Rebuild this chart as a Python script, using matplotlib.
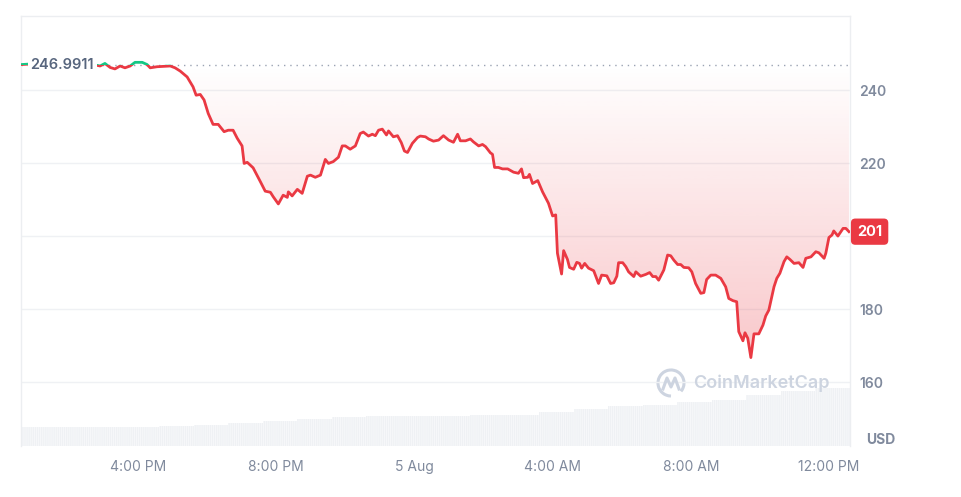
""" 24h price chart, CoinMarketCap style """

import numpy as np
import matplotlib
matplotlib.use('Agg')
import matplotlib.pyplot as plt
from matplotlib.patches import Rectangle, Arc
from matplotlib.lines import Line2D
from matplotlib.transforms import IdentityTransform

plt.rcParams['font.family'] = ['Inter', 'DejaVu Sans']
plt.rcParams['hatch.linewidth'] = 0.6

# hours since 4 Aug 00:00
hours = [12.61, 13.16, 13.74, 14.32, 14.70, 14.90, 15.04, 15.19, 15.33, 15.48,
         15.62, 15.77, 15.91, 16.12, 16.26, 16.35, 16.55, 16.93, 17.07, 17.22,
         17.42, 17.59, 17.68, 17.80, 17.91, 18.03, 18.17, 18.32, 18.49, 18.61,
         18.75, 18.87, 19.01, 19.07, 19.16, 19.33, 19.54, 19.68, 19.83, 19.91,
         20.06, 20.20, 20.32, 20.35, 20.46, 20.61, 20.75, 20.90, 20.99, 21.13,
         21.28, 21.42, 21.51, 21.65, 21.80, 21.91, 22.00, 22.14, 22.29, 22.43,
         22.52, 22.67, 22.78, 22.87, 22.96, 23.07, 23.19, 23.25, 23.39, 23.51,
         23.62, 23.71, 23.80, 23.94, 24.09, 24.17, 24.32, 24.41, 24.55, 24.70,
         24.84, 24.99, 25.13, 25.25, 25.33, 25.48, 25.62, 25.71, 25.86, 25.97,
         26.06, 26.20, 26.26, 26.32, 26.43, 26.55, 26.70, 26.87, 27.01, 27.10,
         27.16, 27.28, 27.33, 27.42, 27.57, 27.71, 27.88, 28.00, 28.09, 28.14,
         28.26, 28.32, 28.43, 28.49, 28.61, 28.70, 28.78, 28.84, 28.93, 29.04,
         29.19, 29.33, 29.42, 29.57, 29.68, 29.77, 29.86, 29.91, 30.03, 30.12,
         30.20, 30.35, 30.41, 30.55, 30.70, 30.81, 30.90, 30.99, 31.07, 31.22,
         31.33, 31.42, 31.51, 31.62, 31.71, 31.80, 31.94, 32.03, 32.14, 32.29,
         32.38, 32.46, 32.58, 32.72, 32.87, 33.01, 33.10, 33.22, 33.33, 33.39,
         33.51, 33.57, 33.65, 33.74, 33.83, 33.97, 34.09, 34.17, 34.26, 34.41,
         34.49, 34.58, 34.70, 34.78, 34.87, 34.99, 35.13, 35.25, 35.33, 35.48,
         35.62, 35.71, 35.86, 35.91, 36.00, 36.09, 36.14, 36.26, 36.41, 36.49,
         36.58]
price = [246.99, 247.3, 246.7, 247.2, 247.0, 246.6, 247.3, 246.2, 245.8, 246.6,
         246.1, 246.6, 247.6, 247.6, 247.0, 246.1, 246.4, 246.6, 246.1, 245.2,
         243.6, 240.9, 238.6, 238.8, 237.3, 233.6, 230.6, 230.6, 228.6, 229.0,
         229.0, 226.8, 224.7, 219.9, 220.2, 218.7, 214.9, 212.3, 212.0, 210.8,
         208.8, 211.2, 210.6, 212.1, 211.0, 212.8, 211.7, 216.4, 216.7, 216.1,
         216.7, 221.0, 219.9, 220.4, 221.6, 224.7, 224.7, 223.8, 224.7, 228.1,
         228.5, 227.4, 227.9, 227.5, 229.0, 229.3, 227.7, 228.8, 227.2, 227.5,
         225.6, 223.3, 222.9, 225.4, 227.0, 227.4, 227.2, 226.6, 226.0, 226.3,
         227.5, 226.3, 225.7, 227.9, 226.1, 226.1, 226.6, 225.8, 224.7, 225.1,
         224.5, 222.8, 222.4, 218.8, 218.8, 218.4, 218.4, 217.5, 217.2, 218.4,
         216.0, 216.1, 216.9, 214.4, 215.2, 212.1, 209.0, 205.5, 205.8, 195.3,
         189.6, 196.0, 193.6, 191.4, 190.9, 192.8, 192.5, 191.2, 192.5, 191.2,
         190.5, 187.0, 189.3, 189.1, 187.0, 187.2, 189.0, 192.7, 192.7, 191.6,
         190.2, 188.9, 190.2, 189.0, 189.5, 190.0, 188.9, 188.9, 187.9, 190.7,
         194.8, 194.6, 193.4, 192.2, 192.2, 191.4, 191.3, 190.2, 187.0, 184.3,
         184.5, 188.1, 189.3, 189.3, 188.4, 186.1, 182.9, 182.3, 182.0, 173.8,
         171.3, 173.5, 172.0, 166.7, 173.2, 173.2, 175.6, 178.1, 179.7, 186.1,
         188.4, 189.8, 193.0, 194.3, 193.6, 192.5, 192.7, 191.4, 193.9, 194.3,
         195.7, 195.4, 193.9, 195.3, 199.6, 200.3, 201.4, 200.0, 202.1, 202.1,
         201.2]
open_price = 246.9911
open_label = '246.9911'
last_label = '201'

# hourly volume bars (left edge hour, arbitrary units)
vol_hours = [12.61, 13.61, 14.61, 15.61, 16.61, 17.61, 18.61, 19.61, 20.61, 21.61,
             22.61, 23.61, 24.61, 25.61, 26.61, 27.61, 28.61, 29.61, 30.61, 31.61,
             32.61, 33.61, 34.61, 35.61]
volume = [19.0, 19.0, 19.0, 19.0, 19.5, 21.0, 22.3, 24.5, 26.5, 28.5,
          29.7, 29.7, 30.2, 30.7, 31.0, 33.5, 36.8, 39.5, 40.8, 43.5,
          46.0, 50.5, 54.5, 58.0]

y_ticks = [160, 180, 200, 220, 240]
y_labels = ['160', '180', '', '220', '240']   # 200 sits under the price badge
x_ticks = [16, 20, 24, 28, 32, 36]
x_labels = ['4:00 PM', '8:00 PM', '5 Aug', '4:00 AM', '8:00 AM', '12:00 PM']

RED = '#ea3943'
GREEN = '#16c784'
GREY = '#808a9d'
DARK = '#58667e'
FRAME = '#eceef1'

W, H = 962, 497
fig = plt.figure(figsize=(W / 100, H / 100), dpi=100)
rect = [21 / W, (H - 445.7) / H, (850 - 21) / W, (445.7 - 16) / H]

x0, x1 = 12.61, 36.61

# volume underneath
axv = fig.add_axes(rect)
axv.bar(vol_hours, volume, width=1.0, align='edge', color='#eff1f4',
        edgecolor='#f8f9fb', hatch='|' * 8, linewidth=0)
axv.set_xlim(x0, x1)
axv.set_ylim(0, 429.7)
axv.axis('off')

ax = fig.add_axes(rect)
ax.set_zorder(2)
ax.patch.set_visible(False)
ax.set_xlim(x0, x1)
ax.set_ylim(142.55, 260.3)

t = np.array(hours)
p = np.array(price)

# grid
for yv in y_ticks:
    ax.axhline(yv, color='#eff1f4', lw=1, zorder=0)
ax.axhline(open_price, color='#9aa3b3', lw=1, ls=(0, (1, 3.5)), zorder=1)

# gradient fill between line and opening price
poly = ax.fill_between(t, np.minimum(p, open_price), open_price,
                       color='none', lw=0)
n = 256
grad = np.zeros((n, 1, 4))
grad[:, 0, :3] = matplotlib.colors.to_rgb(RED)
grad[:, 0, 3] = np.linspace(0.28, 0.0, n)
im = ax.imshow(grad, extent=[x0, x1, p.min(), open_price], origin='lower',
               aspect='auto', zorder=1, interpolation='bilinear')
im.set_clip_path(poly.get_paths()[0], transform=ax.transData)

# line: green above opening price, red below
lr, = ax.plot(t, p, color=RED, lw=2, zorder=3, solid_joinstyle='round')
lg, = ax.plot(t, p, color=GREEN, lw=2, zorder=3, solid_joinstyle='round')
lr.set_clip_path(Rectangle((x0, 0), x1 - x0, open_price, transform=ax.transData))
lg.set_clip_path(Rectangle((x0, open_price), x1 - x0, 200, transform=ax.transData))

# frame
for side in ['top', 'left', 'right']:
    ax.spines[side].set_color(FRAME)
    ax.spines[side].set_linewidth(1)
ax.spines['bottom'].set_visible(False)

ax.yaxis.tick_right()
ax.set_yticks(y_ticks)
ax.set_yticklabels(y_labels)
ax.tick_params(axis='y', length=0, pad=6.5, labelsize=10, labelcolor=GREY)
for lab in ax.get_yticklabels():
    lab.set_fontweight('semibold')
ax.set_xticks(x_ticks)
ax.set_xticklabels(x_labels)
ax.tick_params(axis='x', length=0, pad=10, labelsize=10, labelcolor=GREY)

# opening price label
ax.text(0.0115, open_price, open_label, transform=ax.get_yaxis_transform(),
        ha='left', va='center', fontsize=10.5, color=DARK, fontweight='semibold',
        zorder=4, bbox=dict(boxstyle='square,pad=0.2', fc='white', ec='none'))

# last price badge
ax.text(1.0085, p[-1], last_label, transform=ax.get_yaxis_transform(),
        ha='left', va='center', fontsize=10.5, color='white', fontweight='bold',
        zorder=5, clip_on=False,
        bbox=dict(boxstyle='round,pad=0.42,rounding_size=0.3', fc=RED, ec='none'))

fig.text(881 / W, 1 - 440 / H, 'USD', ha='center', va='center', fontsize=10,
         color=GREY, fontweight='bold')

# watermark
WM = '#cdd4e0'
fig.text(693 / W, 1 - 383 / H, 'CoinMarketCap', ha='left', va='center',
         fontsize=13, color=WM, fontweight='semibold', zorder=6)
cx, cy = 671, H - 383
fig.patches.append(Arc((cx, cy), 26, 26, theta1=-40, theta2=270, lw=2.2,
                       color=WM, transform=IdentityTransform()))
fig.lines.append(Line2D([663, 667, 671, 675, 679], [cy - 6, cy + 5, cy - 4, cy + 5, cy - 6],
                        lw=2.2, color=WM, solid_joinstyle='round',
                        transform=IdentityTransform()))

fig.savefig('out.png', dpi=100)
